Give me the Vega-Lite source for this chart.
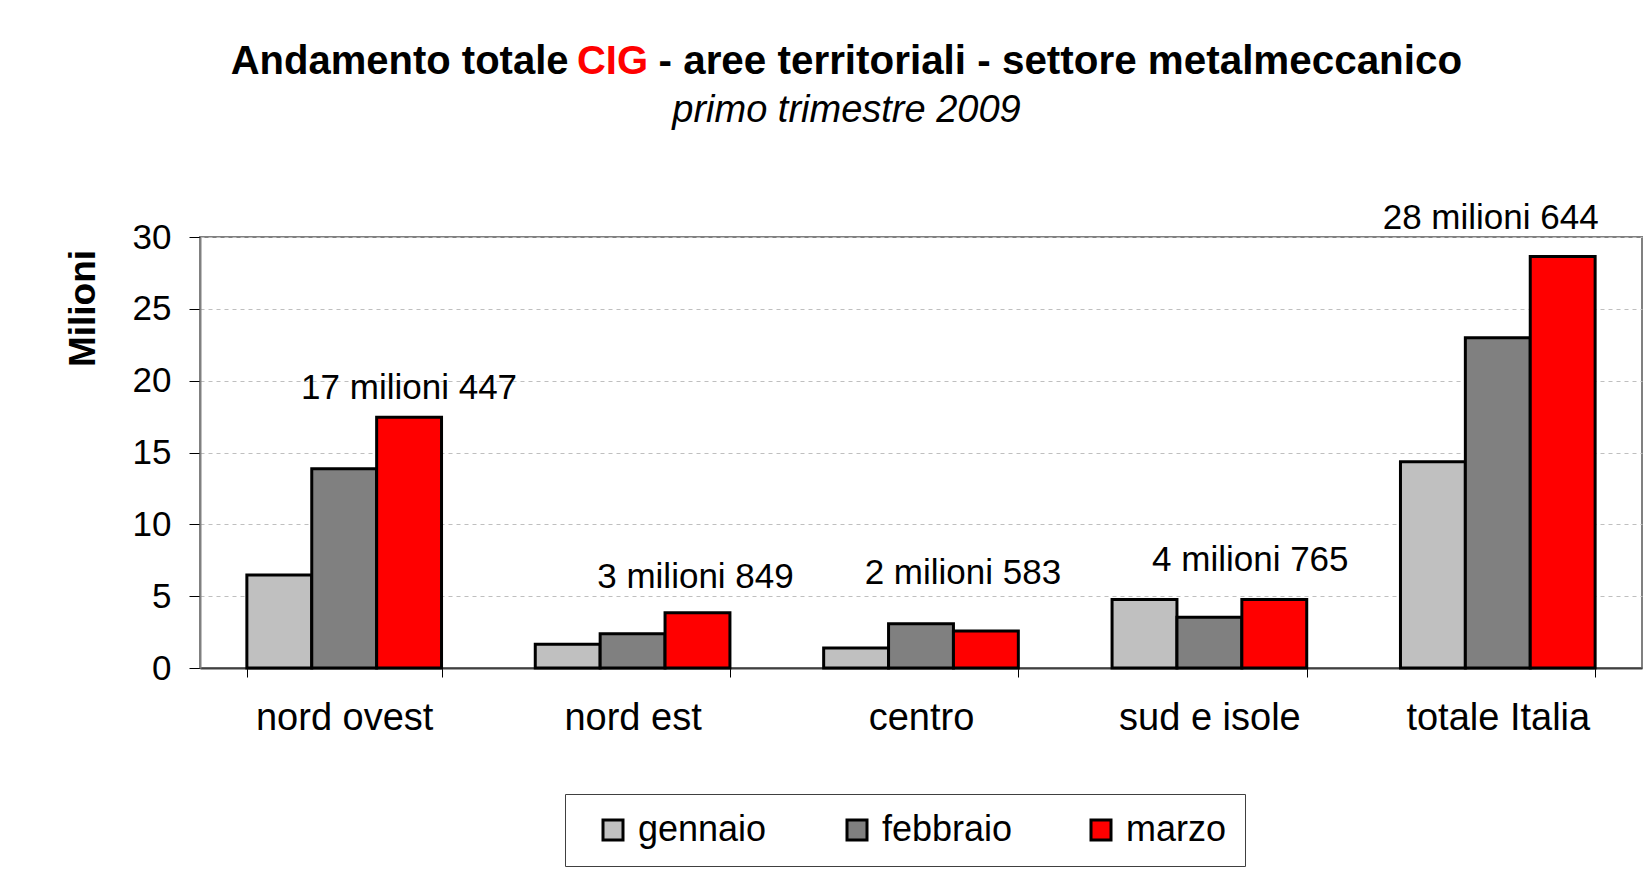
{
  "$schema": "https://vega.github.io/schema/vega-lite/v6.json",
  "width": 1442,
  "height": 431,
  "autosize": "none",
  "padding": {"left": 200, "top": 237, "right": 9, "bottom": 209},
  "background": "white",
  "config": {"view": {"stroke": "#808080", "strokeWidth": 2}},
  "data": {
    "values": [
      {"area": "nord ovest", "mese": "gennaio", "valore": 6.47, "etichetta": ""},
      {"area": "nord ovest", "mese": "febbraio", "valore": 13.87, "etichetta": ""},
      {"area": "nord ovest", "mese": "marzo", "valore": 17.447, "etichetta": "17 milioni 447"},
      {"area": "nord est", "mese": "gennaio", "valore": 1.65, "etichetta": ""},
      {"area": "nord est", "mese": "febbraio", "valore": 2.38, "etichetta": ""},
      {"area": "nord est", "mese": "marzo", "valore": 3.849, "etichetta": "3 milioni 849"},
      {"area": "centro", "mese": "gennaio", "valore": 1.4, "etichetta": ""},
      {"area": "centro", "mese": "febbraio", "valore": 3.08, "etichetta": ""},
      {"area": "centro", "mese": "marzo", "valore": 2.583, "etichetta": "2 milioni 583"},
      {"area": "sud e isole", "mese": "gennaio", "valore": 4.77, "etichetta": ""},
      {"area": "sud e isole", "mese": "febbraio", "valore": 3.53, "etichetta": ""},
      {"area": "sud e isole", "mese": "marzo", "valore": 4.765, "etichetta": "4 milioni 765"},
      {"area": "totale Italia", "mese": "gennaio", "valore": 14.35, "etichetta": ""},
      {"area": "totale Italia", "mese": "febbraio", "valore": 22.98, "etichetta": ""},
      {"area": "totale Italia", "mese": "marzo", "valore": 28.644, "etichetta": "28 milioni 644"}
    ]
  },
  "encoding": {
    "x": {
      "field": "area",
      "type": "nominal",
      "sort": ["nord ovest", "nord est", "centro", "sud e isole", "totale Italia"],
      "scale": {"paddingInner": 0.325, "paddingOuter": 0.1625},
      "axis": {
        "title": null,
        "labelAngle": 0,
        "labelFont": "Liberation Sans",
        "labelFontSize": 38,
        "labelColor": "black",
        "labelPadding": 22,
        "labelLimit": 500,
        "tickBand": "extent",
        "tickColor": "black",
        "tickSize": 9,
        "tickWidth": 1,
        "domainColor": "#404040",
        "domainWidth": 2,
        "grid": false
      }
    },
    "xOffset": {
      "field": "mese",
      "sort": ["gennaio", "febbraio", "marzo"],
      "scale": {"paddingInner": 0, "paddingOuter": 0}
    },
    "y": {
      "field": "valore",
      "type": "quantitative",
      "scale": {"domain": [0, 30], "nice": false},
      "axis": {
        "title": "Milioni",
        "titleFont": "Liberation Sans",
        "titleFontSize": 37,
        "titleFontWeight": "bold",
        "titleColor": "black",
        "titlePadding": 30,
        "titleY": 71,
        "values": [0, 5, 10, 15, 20, 25, 30],
        "labelFont": "Liberation Sans",
        "labelFontSize": 35,
        "labelColor": "black",
        "labelPadding": 18,
        "tickColor": "black",
        "tickSize": 11,
        "tickWidth": 1,
        "domainColor": "#808080",
        "domainWidth": 2,
        "grid": true,
        "gridColor": "#BFBFBF",
        "gridDash": [4, 4],
        "gridWidth": 1
      }
    }
  },
  "resolve": {"axis": {"x": "independent"}},
  "layer": [
    {
      "mark": {"type": "bar", "stroke": "black", "strokeWidth": 3},
      "encoding": {
        "color": {
          "field": "mese",
          "type": "nominal",
          "sort": ["gennaio", "febbraio", "marzo"],
          "scale": {"domain": ["gennaio", "febbraio", "marzo"], "range": ["#C0C0C0", "#808080", "#FF0000"]},
          "legend": {
            "title": null,
            "orient": "none",
            "direction": "horizontal",
            "legendX": 365,
            "legendY": 557,
            "columns": 3,
            "gridAlign": "all",
            "columnPadding": 58,
            "padding": 18,
            "symbolOffset": 12,
            "strokeColor": "#404040",
            "fillColor": "white",
            "labelFont": "Liberation Sans",
            "labelFontSize": 36,
            "labelColor": "black",
            "labelOffset": 7,
            "symbolType": "square",
            "symbolSize": 400,
            "symbolStrokeColor": "black",
            "symbolStrokeWidth": 3,
            "symbolOpacity": 1
          }
        }
      }
    },
    {
      "transform": [{"filter": "datum.area === 'nord ovest'"}],
      "mark": {"type": "text", "font": "Liberation Sans", "fontSize": 35, "color": "black", "baseline": "alphabetic", "dy": -18},
      "encoding": {
        "x": {
          "field": "area", "type": "nominal",
          "sort": ["nord ovest", "nord est", "centro", "sud e isole", "totale Italia"],
          "axis": {"orient": "top", "labels": false, "ticks": false, "domain": false, "grid": false,
            "title": "Andamento totale", "titleX": 368, "titleY": -164, "titleAlign": "right", "titleBaseline": "alphabetic", "titleAngle": 0,
            "titleFont": "Liberation Sans", "titleFontSize": 40, "titleFontWeight": "bold", "titleColor": "black"}
        },
        "xOffset": {"datum": "marzo"},
        "text": {"field": "etichetta"}
      }
    },
    {
      "transform": [{"filter": "datum.area === 'nord est'"}],
      "mark": {"type": "text", "font": "Liberation Sans", "fontSize": 35, "color": "black", "baseline": "alphabetic", "dx": -2, "dy": -25},
      "encoding": {
        "x": {
          "field": "area", "type": "nominal",
          "sort": ["nord ovest", "nord est", "centro", "sud e isole", "totale Italia"],
          "axis": {"orient": "top", "labels": false, "ticks": false, "domain": false, "grid": false,
            "title": "CIG", "titleX": 412, "titleY": -164, "titleAlign": "center", "titleBaseline": "alphabetic", "titleAngle": 0,
            "titleFont": "Liberation Sans", "titleFontSize": 40, "titleFontWeight": "bold", "titleColor": "#FF0000"}
        },
        "xOffset": {"datum": "marzo"},
        "text": {"field": "etichetta"}
      }
    },
    {
      "transform": [{"filter": "datum.area === 'centro'"}],
      "mark": {"type": "text", "font": "Liberation Sans", "fontSize": 35, "color": "black", "baseline": "alphabetic", "dx": -23, "dy": -47},
      "encoding": {
        "x": {
          "field": "area", "type": "nominal",
          "sort": ["nord ovest", "nord est", "centro", "sud e isole", "totale Italia"],
          "axis": {"orient": "top", "labels": false, "ticks": false, "domain": false, "grid": false,
            "title": "- aree territoriali - settore metalmeccanico", "titleX": 458, "titleY": -164, "titleAlign": "left", "titleBaseline": "alphabetic", "titleAngle": 0,
            "titleFont": "Liberation Sans", "titleFontSize": 40.4, "titleFontWeight": "bold", "titleColor": "black"}
        },
        "xOffset": {"datum": "marzo"},
        "text": {"field": "etichetta"}
      }
    },
    {
      "transform": [{"filter": "datum.area === 'sud e isole'"}],
      "mark": {"type": "text", "font": "Liberation Sans", "fontSize": 35, "color": "black", "baseline": "alphabetic", "dx": -24, "dy": -29},
      "encoding": {
        "x": {
          "field": "area", "type": "nominal",
          "sort": ["nord ovest", "nord est", "centro", "sud e isole", "totale Italia"],
          "axis": {"orient": "top", "labels": false, "ticks": false, "domain": false, "grid": false,
            "title": "primo trimestre 2009", "titleX": 646, "titleY": -116, "titleAlign": "center", "titleBaseline": "alphabetic", "titleAngle": 0,
            "titleFont": "Liberation Sans", "titleFontSize": 38, "titleFontWeight": "normal", "titleFontStyle": "italic", "titleColor": "black"}
        },
        "xOffset": {"datum": "marzo"},
        "text": {"field": "etichetta"}
      }
    },
    {
      "transform": [{"filter": "datum.area === 'totale Italia'"}],
      "mark": {"type": "text", "font": "Liberation Sans", "fontSize": 35, "color": "black", "baseline": "alphabetic", "dx": -72, "dy": -27},
      "encoding": {
        "x": {
          "field": "area", "type": "nominal",
          "sort": ["nord ovest", "nord est", "centro", "sud e isole", "totale Italia"],
          "axis": null
        },
        "xOffset": {"datum": "marzo"},
        "text": {"field": "etichetta"}
      }
    }
  ]
}
